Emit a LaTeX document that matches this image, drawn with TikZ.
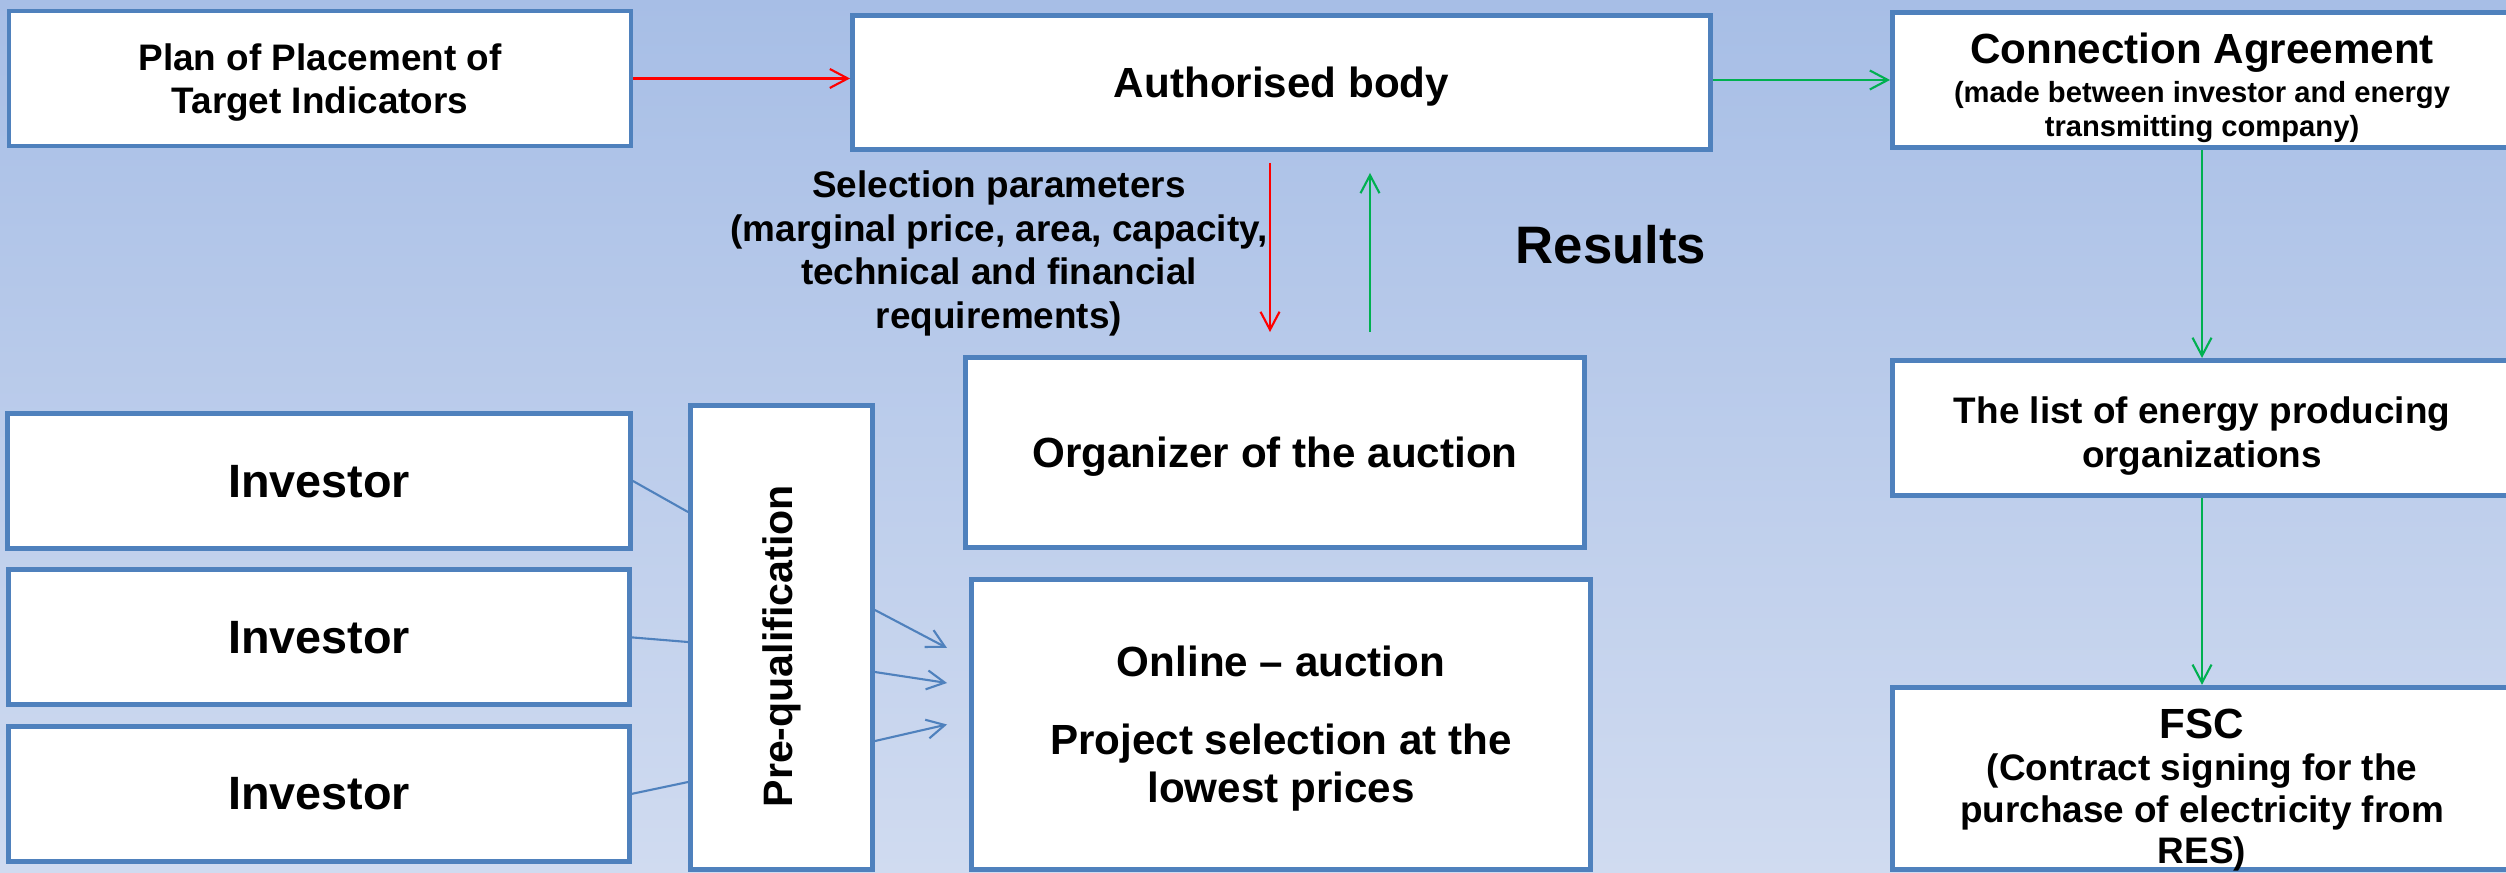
\documentclass[tikz,border=0pt]{standalone}
\usepackage{fontspec}
\setmainfont{Liberation Sans}
\usepackage{graphicx}
\usepackage{tikz}
\usetikzlibrary{positioning,arrows.meta}
\definecolor{RESSkyTop}{HTML}{A7BEE6}
\definecolor{RESSkyLow}{HTML}{D0DBF0}
\definecolor{RESBlue}{HTML}{4F81BD}
\definecolor{RESRed}{HTML}{FF0000}
\definecolor{RESGreen}{HTML}{00B050}

\begin{document}
\begin{tikzpicture}[>={Straight Barb[length=1.8mm,width=1.9mm]},node distance=1.65mm]
  \tikzstyle{stage}=[draw=RESBlue,line width=1.4pt,fill=white,inner sep=0pt,
    text depth=-0.5pt,align=center,font=\bfseries\fontsize{10.5}{12.3}\selectfont]
  \tikzstyle{feed}=[->,line width=0.6pt]
  \useasboundingbox (0,0) rectangle (25.06,8.73);
  \clip (0,0) rectangle (25.06,8.73);
  \shade[top color=RESSkyTop,bottom color=RESSkyLow] (0,0) rectangle (25.06,8.73);

  \node[stage,minimum width=6.22cm,minimum height=1.35cm] (plan) at (3.20,7.945)
    {Plan of Placement of\\Target Indicators};
  \node[stage,minimum width=8.58cm,minimum height=1.34cm] (auth) at (12.815,7.905)
    {\fontsize{12}{14}\selectfont Authorised body};
  \node[stage,minimum width=6.19cm,minimum height=1.35cm,text depth=-3.3pt,
    font=\bfseries\fontsize{12}{12.2}\selectfont] (ca) at (22.02,7.93)
    {\rule{0pt}{11.5pt}Connection Agreement\\[-1.3pt]
     \fontsize{8.3}{9.7}\selectfont (made between investor and energy\\[-2.5pt]
     \fontsize{8.3}{9.7}\selectfont transmitting company)};
  \node[stage,minimum width=6.19cm,minimum height=1.35cm,text depth=-3.2pt,
    font=\bfseries\fontsize{10.5}{12.7}\selectfont,below=2.08cm of ca] (list)
    {\rule{0pt}{10pt}The list of energy producing\\organizations};
  \node[stage,minimum width=6.19cm,minimum height=1.82cm,text depth=-7.4pt,
    font=\bfseries\fontsize{10.5}{11.9}\selectfont,below=1.87cm of list] (fsc)
    {\fontsize{12}{14}\selectfont\rule{0pt}{13pt}FSC\\(Contract signing for the\\
     purchase of electricity from\\RES)};

  \node[font=\bfseries\fontsize{10.5}{12.4}\selectfont,align=center] (selpar) at (9.99,6.195)
    {Selection parameters\\(marginal price, area, capacity,\\
     technical and financial\\requirements)};
  \node[font=\bfseries\fontsize{15}{18}\selectfont] (results) at (16.11,6.28) {Results};

  \node[stage,minimum width=6.19cm,minimum height=1.90cm,text depth=-1.1pt] (org) at (12.75,4.205)
    {\fontsize{12}{14}\selectfont Organizer of the auction};
  \node[stage,minimum width=6.19cm,minimum height=2.90cm,
    font=\bfseries\fontsize{12}{13.7}\selectfont] (online) at (12.81,1.485)
    {Online -- auction\\[8.5pt]Project selection at the\\lowest prices};
  \node[stage,minimum width=1.82cm,minimum height=4.64cm,text depth=0pt] (prequal) at (7.815,2.355)
    {\rotatebox{90}{\fontsize{11.7}{14}\selectfont Pre-qualification\hspace{5pt}}};

  \node[stage,minimum width=6.23cm,minimum height=1.35cm,text depth=0pt,
    font=\bfseries\fontsize{13.3}{15}\selectfont] (inv1) at (3.19,3.92) {Investor};
  \node[stage,minimum width=6.21cm,minimum height=1.35cm,text depth=0pt,
    font=\bfseries\fontsize{13.3}{15}\selectfont,below=of inv1] (inv2) {Investor};
  \node[stage,minimum width=6.21cm,minimum height=1.35cm,text depth=0pt,
    font=\bfseries\fontsize{13.3}{15}\selectfont,below=of inv2] (inv3) {Investor};

  \draw[feed,RESRed] (plan.east) -- (plan.east -| auth.west);
  \draw[feed,RESGreen] (ca.west -| auth.east) -- (ca.west);
  \draw[feed,RESGreen] (ca.south) -- (list.north);
  \draw[feed,RESGreen] (list.south) -- (fsc.north);

  \coordinate (selTop) at ([xshift=-1.15mm]auth.south);
  \coordinate (resLow) at ([xshift=9.5mm]org.north);
  \draw[feed,RESRed,shorten <=1.1mm,shorten >=2.3mm] (selTop) -- (selTop |- org.north);
  \draw[feed,RESGreen,shorten <=2.3mm,shorten >=2.1mm] (resLow) -- (resLow |- auth.south);

  \draw[line width=0.6pt,RESBlue] (inv1.east) -- ([yshift=-10.9mm]prequal.north west);
  \draw[line width=0.6pt,RESBlue] (inv2.east) -- ([yshift=-23.9mm]prequal.north west);
  \draw[line width=0.6pt,RESBlue] (inv3.east) -- ([yshift=-37.9mm]prequal.north west);

  \coordinate (bid1) at ([xshift=-2.2mm,yshift=7.65mm]online.west);
  \coordinate (bid2) at ([xshift=-2.2mm,yshift=4.15mm]online.west);
  \coordinate (bid3) at ([xshift=-2.2mm]online.west);
  \draw[feed,RESBlue] ([yshift=-20.7mm]prequal.north east) -- (bid1);
  \draw[feed,RESBlue] ([yshift=-26.9mm]prequal.north east) -- (bid2);
  \draw[feed,RESBlue] ([yshift=-33.8mm]prequal.north east) -- (bid3);
\end{tikzpicture}
\end{document}
